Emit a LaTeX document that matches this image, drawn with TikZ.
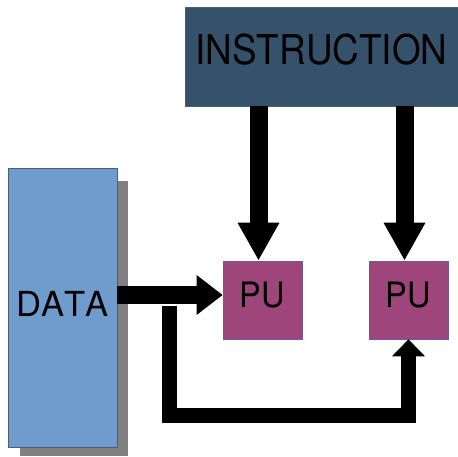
\documentclass[tikz,border=0pt]{standalone}
\usepackage{fontspec}
\setmainfont[Kerning=Off]{TeX Gyre Heros}
\usetikzlibrary{arrows.meta,backgrounds}
\definecolor{instrfill}{RGB}{54,81,106}
\definecolor{instrline}{RGB}{70,95,125}
\definecolor{datafill}{RGB}{111,156,205}
\definecolor{dataline}{RGB}{70,95,125}
\definecolor{pufill}{RGB}{158,69,123}
\definecolor{puline}{RGB}{110,90,150}
\definecolor{shadowgray}{RGB}{128,128,128}
\tikzset{
  box/.style={rectangle, inner sep=0pt, line width=0.6pt},
  instrbox/.style={box, fill=instrfill, draw=instrline, minimum width=273pt, minimum height=99pt,
    text height=29pt, text depth=13pt, font=\fontsize{41}{41}\selectfont},
  databox/.style={box, fill=datafill, draw=dataline, minimum width=109pt, minimum height=279pt,
    text height=25pt, text depth=8pt, font=\fontsize{34.5}{34.5}\selectfont},
  pubox/.style={box, fill=pufill, draw=puline, minimum width=79pt, minimum height=78pt,
    text height=25pt, text depth=11pt, font=\fontsize{35}{35}\selectfont},
  bigarrow/.style={line width=18pt, -{Triangle[width=39pt,length=38pt]}},
  dataarrow/.style={line width=18pt, -{Triangle[width=38pt,length=26pt]}},
  busarrow/.style={line width=15.5pt, line join=miter, -{Triangle[width=32pt,length=17pt]}}
}
\begin{document}
\begin{tikzpicture}[x=1pt,y=-1pt]
\useasboundingbox (0,0) rectangle (458,456);
\node[instrbox] (instr) at (321.5,56.5) {\scalebox{0.9}[1]{INSTRUCTION}};
\node[databox] (data) at (62.5,307.5) {DATA};
\node[pubox] (pu1) at (262.5,300) {\scalebox{0.93}[1]{PU}};
\node[pubox] (pu2) at (408.5,300) {\scalebox{0.93}[1]{PU}};
\begin{scope}[on background layer]
  \fill[shadowgray] ([shift={(12,13)}]data.north west) rectangle ([shift={(11,9)}]data.south east);
\end{scope}
\coordinate (a1) at (258.5,0);
\coordinate (a2) at (404.5,0);
\coordinate (dy) at (0,295);
\coordinate (dsplit) at (169.5,305.5);
\coordinate (bot) at (0,415.5);
\draw[bigarrow] (instr.south -| a1) -- (pu1.north -| a1);
\draw[bigarrow] (instr.south -| a2) -- (pu2.north -| a2);
\draw[dataarrow] (data.east |- dy) -- (pu1.west |- dy);
\draw[busarrow] (dsplit) -- (dsplit |- bot) -- (pu2.south |- bot) -- (pu2.south);
\end{tikzpicture}
\end{document}
